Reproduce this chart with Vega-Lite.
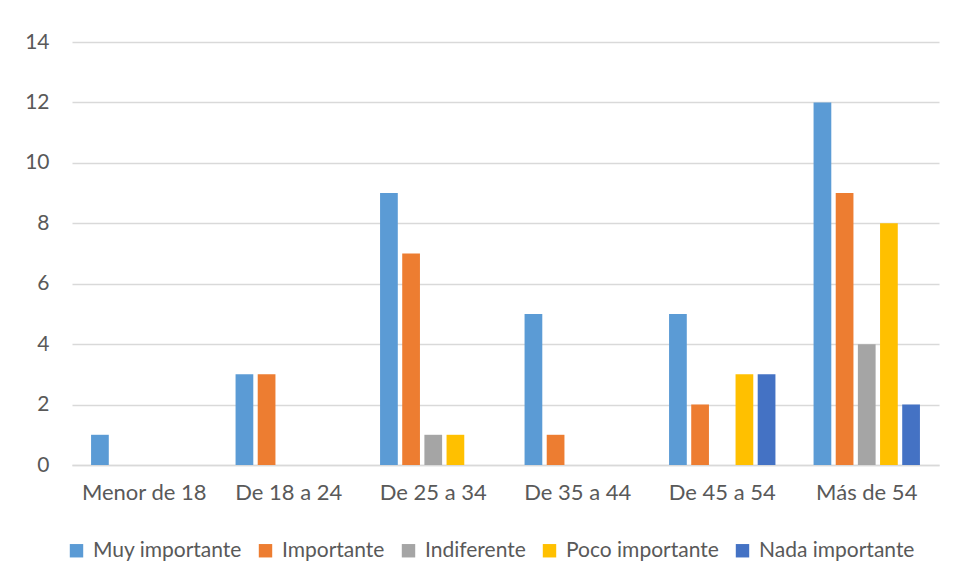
{
  "$schema": "https://vega.github.io/schema/vega-lite/v6.json",
  "width": 867,
  "height": 423,
  "autosize": {"type": "none"},
  "padding": {"left": 72, "top": 42, "right": 17, "bottom": 114},
  "background": "white",
  "config": {
    "view": {"stroke": null},
    "font": "Lato",
    "axis": {"labelFont": "Lato", "labelColor": "#595959", "labelFontSize": 21, "gridColor": "#D9D9D9", "gridWidth": 1.3, "ticks": false, "title": null}
  },
  "data": {
    "values": [
      {"grupo": "Menor de 18", "nivel": "Muy importante", "n": 1},
      {"grupo": "Menor de 18", "nivel": "Importante", "n": 0},
      {"grupo": "Menor de 18", "nivel": "Indiferente", "n": 0},
      {"grupo": "Menor de 18", "nivel": "Poco importante", "n": 0},
      {"grupo": "Menor de 18", "nivel": "Nada importante", "n": 0},
      {"grupo": "De 18 a 24", "nivel": "Muy importante", "n": 3},
      {"grupo": "De 18 a 24", "nivel": "Importante", "n": 3},
      {"grupo": "De 18 a 24", "nivel": "Indiferente", "n": 0},
      {"grupo": "De 18 a 24", "nivel": "Poco importante", "n": 0},
      {"grupo": "De 18 a 24", "nivel": "Nada importante", "n": 0},
      {"grupo": "De 25 a 34", "nivel": "Muy importante", "n": 9},
      {"grupo": "De 25 a 34", "nivel": "Importante", "n": 7},
      {"grupo": "De 25 a 34", "nivel": "Indiferente", "n": 1},
      {"grupo": "De 25 a 34", "nivel": "Poco importante", "n": 1},
      {"grupo": "De 25 a 34", "nivel": "Nada importante", "n": 0},
      {"grupo": "De 35 a 44", "nivel": "Muy importante", "n": 5},
      {"grupo": "De 35 a 44", "nivel": "Importante", "n": 1},
      {"grupo": "De 35 a 44", "nivel": "Indiferente", "n": 0},
      {"grupo": "De 35 a 44", "nivel": "Poco importante", "n": 0},
      {"grupo": "De 35 a 44", "nivel": "Nada importante", "n": 0},
      {"grupo": "De 45 a 54", "nivel": "Muy importante", "n": 5},
      {"grupo": "De 45 a 54", "nivel": "Importante", "n": 2},
      {"grupo": "De 45 a 54", "nivel": "Indiferente", "n": 0},
      {"grupo": "De 45 a 54", "nivel": "Poco importante", "n": 3},
      {"grupo": "De 45 a 54", "nivel": "Nada importante", "n": 3},
      {"grupo": "Más de 54", "nivel": "Muy importante", "n": 12},
      {"grupo": "Más de 54", "nivel": "Importante", "n": 9},
      {"grupo": "Más de 54", "nivel": "Indiferente", "n": 4},
      {"grupo": "Más de 54", "nivel": "Poco importante", "n": 8},
      {"grupo": "Más de 54", "nivel": "Nada importante", "n": 2}
    ]
  },
  "mark": {"type": "bar"},
  "encoding": {
    "x": {
      "field": "grupo", "type": "nominal", "sort": null,
      "scale": {"paddingInner": 0, "paddingOuter": 0},
      "axis": {"labelAngle": 0, "grid": false, "domainColor": "#D9D9D9", "domainWidth": 1.3, "labelPadding": 17, "labelFontSize": 22}
    },
    "xOffset": {
      "field": "nivel", "type": "nominal",
      "sort": ["Muy importante", "Importante", "Indiferente", "Poco importante", "Nada importante"],
      "scale": {"paddingInner": 0.2, "paddingOuter": 0.86}
    },
    "y": {
      "field": "n", "type": "quantitative",
      "scale": {"domain": [0, 14], "nice": false},
      "axis": {"values": [0, 2, 4, 6, 8, 10, 12, 14], "domain": false, "labelPadding": 23}
    },
    "color": {
      "field": "nivel", "type": "nominal",
      "sort": ["Muy importante", "Importante", "Indiferente", "Poco importante", "Nada importante"],
      "scale": {
        "domain": ["Muy importante", "Importante", "Indiferente", "Poco importante", "Nada importante"],
        "range": ["#5B9BD5", "#ED7D31", "#A5A5A5", "#FFC000", "#4472C4"]
      },
      "legend": {
        "title": null, "orient": "none", "direction": "horizontal",
        "legendX": -6, "legendY": 498,
        "symbolType": "square", "symbolSize": 180, "symbolStrokeWidth": 0,
        "labelFont": "Lato", "labelFontSize": 21, "labelColor": "#595959",
        "labelOffset": 6, "columnPadding": 13, "labelLimit": 300
      }
    }
  }
}
